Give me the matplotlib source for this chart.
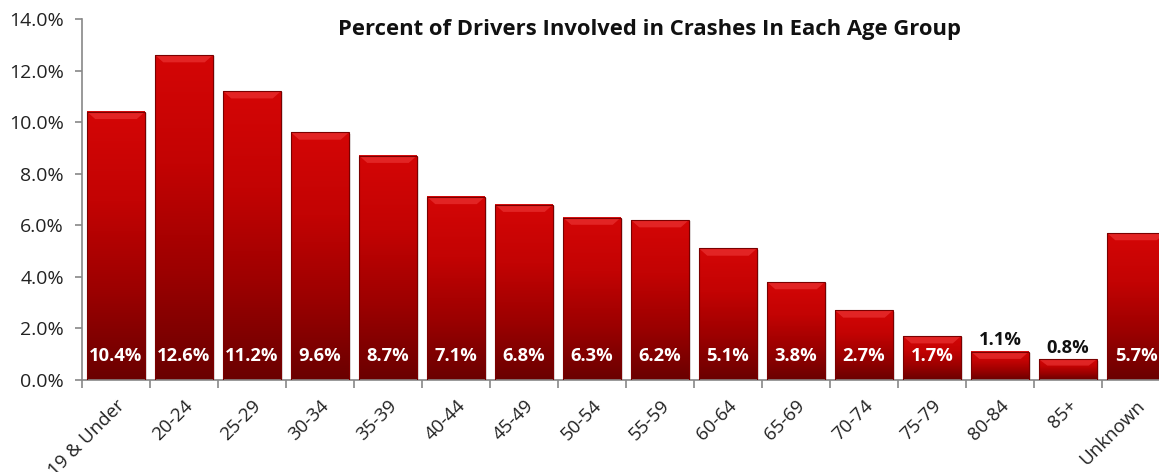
import numpy as np
import matplotlib
matplotlib.use("Agg")
import matplotlib.pyplot as plt
from matplotlib.colors import LinearSegmentedColormap
from matplotlib.ticker import FuncFormatter, FixedLocator

categories = ["19 & Under", "20-24", "25-29", "30-34", "35-39", "40-44", "45-49",
              "50-54", "55-59", "60-64", "65-69", "70-74", "75-79", "80-84", "85+", "Unknown"]
values = [10.4, 12.6, 11.2, 9.6, 8.7, 7.1, 6.8, 6.3, 6.2, 5.1, 3.8, 2.7, 1.7, 1.1, 0.8, 5.7]
outside_labels = ["80-84", "85+"]
title = "Percent of Drivers Involved in Crashes In Each Age Group"

plt.rcParams['font.family'] = ['Open Sans', 'DejaVu Sans']

fig = plt.figure(figsize=(11.59, 4.72), dpi=100)
ax = fig.add_axes([82/1159, 92/472, 1088/1159, 361/472])

x = np.arange(len(categories))
bars = ax.bar(x, values, width=0.85, color="none", edgecolor="none", zorder=2)

cmap = LinearSegmentedColormap.from_list("redgrad", ["#6a0000", "#9c0000", "#c30303", "#d40606"])
grad = np.linspace(0, 1, 256).reshape(-1, 1)
for b in bars:
    x0, w, h = b.get_x(), b.get_width(), b.get_height()
    # shadow
    ax.add_patch(plt.Rectangle((x0 + 0.03, 0), w, h - 0.05, color="#aaaaaa", alpha=0.35, zorder=1, lw=0))
    ax.imshow(grad, extent=(x0, x0 + w, 0, h), origin="lower", cmap=cmap,
              aspect="auto", zorder=2, interpolation="bicubic")
    # bevel top face
    bev = min(0.28, h * 0.3)
    dx = 0.12
    ax.add_patch(plt.Polygon([(x0, h), (x0 + w, h), (x0 + w - dx, h - bev), (x0 + dx, h - bev)],
                             closed=True, color="#ee3a3a", alpha=0.6, lw=0, zorder=3))
    ax.add_patch(plt.Rectangle((x0, 0), w, h, fill=False, edgecolor="#7a0000", lw=0.8, zorder=3))

for xi, v, c in zip(x, values, categories):
    if c in outside_labels:
        ax.text(xi, v + 0.1, f"{v:.1f}%", ha="center", va="bottom", color="#111111",
                fontsize=13.2, fontweight="bold", zorder=4)
    else:
        ax.text(xi, 0.95, f"{v:.1f}%", ha="center", va="center", color="white",
                fontsize=13.2, fontweight="bold", zorder=4)

ax.set_xlim(-0.5, len(categories) - 0.5)
ax.set_ylim(0, 14)
ax.set_yticks(np.arange(0, 14.1, 2))
ax.yaxis.set_major_formatter(FuncFormatter(lambda v, p: f"{v:.1f}%"))
ax.tick_params(axis="y", labelsize=14, length=5, color="#888888", width=1.2, labelcolor="#222222", pad=8)

ax.set_xticks(x)
ax.set_xticklabels(categories, rotation=45, ha="right", rotation_mode="anchor", fontsize=13.5, color="#222222")
ax.tick_params(axis="x", which="major", length=0, pad=12)
ax.xaxis.set_minor_locator(FixedLocator(np.arange(-0.5, len(categories), 1)))
ax.tick_params(axis="x", which="minor", length=6, color="#888888", width=1.2)

for s in ["top", "right"]:
    ax.spines[s].set_visible(False)
for s in ["left", "bottom"]:
    ax.spines[s].set_color("#888888")
    ax.spines[s].set_linewidth(1.2)

fig.text(650/1159, (472-30)/472, title, ha="center", va="center", fontsize=15.8,
         fontweight="bold", color="#111111")

fig.savefig("out.png", dpi=100)
